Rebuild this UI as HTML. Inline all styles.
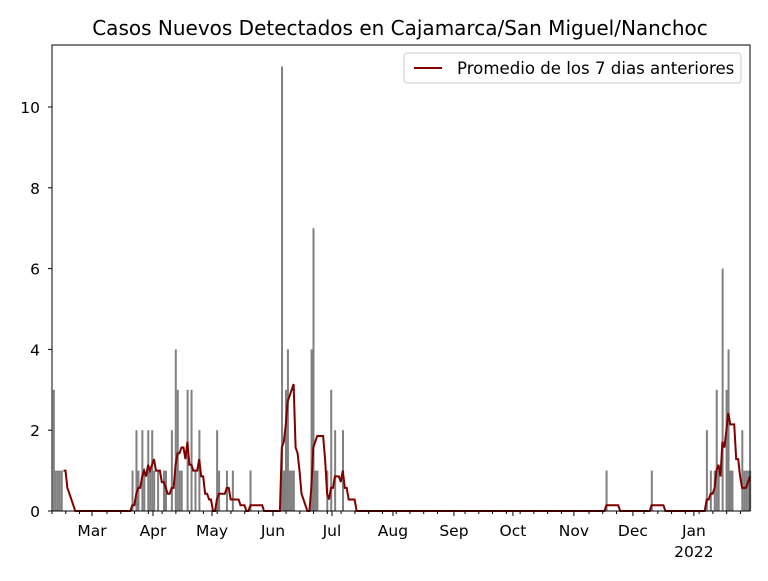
<!DOCTYPE html>
<html><head><meta charset="utf-8"><style>
body{margin:0;background:#fff;}
svg text{font-family:"DejaVu Sans","Liberation Sans",sans-serif;}
</style></head><body>
<svg id="chart" width="768" height="576" xmlns="http://www.w3.org/2000/svg">
<text x="400" y="35" font-size="20" text-anchor="middle">Casos Nuevos Detectados en Cajamarca/San Miguel/Nanchoc</text>
<g id="bars"></g>
<g id="line"></g>
<g id="axes"></g>
<rect x="52" y="45" width="698" height="466" fill="none" stroke="#000" stroke-width="1"/>
<g>
<rect x="404" y="53" width="337" height="30" rx="3" fill="#fff" stroke="#ccc"/>
<line x1="414" y1="68" x2="442" y2="68" stroke="#800000" stroke-width="2"/>
<text x="457" y="74" font-size="16.6">Promedio de los 7 dias anteriores</text>
</g>
</svg>
<script>
const nDays = 355;
const caseDays = [0,1,2,3,4,40,42,43,45,46,48,49,50,51,53,56,57,60,62,63,64,65,68,70,72,74,83,84,88,91,100,116,117,118,119,120,121,122,131,132,133,134,139,141,143,147,281,304,332,334,336,337,338,340,342,343,344,345,350,351,352,353,354];
const caseVals = [3,1,1,1,1,1,2,1,2,1,2,1,2,1,1,1,1,2,4,3,1,1,3,3,1,2,2,1,1,1,1,11,1,3,4,1,1,1,4,7,1,1,1,3,2,2,1,1,2,1,1,3,1,6,3,4,1,1,2,1,1,1,1];
const yTicks = [0,2,4,6,8,10];
const monthDays = [20,51,81,112,142,173,204,234,265,295,326];
const monthLabels = ["Mar","Apr","May","Jun","Jul","Aug","Sep","Oct","Nov","Dec","Jan"];
const NS="http://www.w3.org/2000/svg";
const x = d => 92 + (d-20)*1.967;
const y = v => 511 - v*40.4;
const cases = new Array(nDays).fill(0);
caseDays.forEach((d,i)=>cases[d]=caseVals[i]);
const bars=document.getElementById('bars');
cases.forEach((v,d)=>{ if(!v) return;
  const r=document.createElementNS(NS,'rect');
  
  
  r.setAttribute('x',x(d)+0.2);r.setAttribute('width',2);
  r.setAttribute('y',y(v));r.setAttribute('height',y(0)-y(v));r.setAttribute('fill','#808080');
  bars.appendChild(r);});
let pts=[];
for(let d=5;d<nDays;d++){let s=0;for(let k=d-6;k<=d;k++) if(k>=0) s+=cases[k]; pts.push((x(d)+1).toFixed(1)+','+y(s/7).toFixed(1));}
const pl=document.createElementNS(NS,'polyline');


pl.setAttribute('points',pts.join(' '));pl.setAttribute('fill','none');pl.setAttribute('stroke','#800000');pl.setAttribute('stroke-width','2');
document.getElementById('line').appendChild(pl);
const ax=document.getElementById('axes');
function add(tag,attrs,text){const e=document.createElementNS(NS,tag);for(const k in attrs)e.setAttribute(k,attrs[k]);if(text!==undefined)e.textContent=text;ax.appendChild(e);return e;}
yTicks.forEach(v=>{
  const t=add('line',{x1:48,x2:52,y1:y(v),y2:y(v),stroke:'#000'});
  
  
  const l=add('text',{x:40,y:y(v)+6,'font-size':15.5,'text-anchor':'end'},String(v));
  
  
});
for(let d=0;d<nDays;d+=7){ if(monthDays.some(m=>Math.abs(m-d)<2)) continue;
  const t=add('line',{x1:x(d)-0.7,x2:x(d)-0.7,y1:511,y2:514,stroke:'#000'});
  
  }
monthDays.forEach((d,i)=>{
  const t=add('line',{x1:x(d),x2:x(d),y1:511,y2:516,stroke:'#000'});
  
  
  const l=add('text',{x:x(d),y:536,'font-size':15.5,'text-anchor':'middle'},monthLabels[i]);
  
  
});
const yr=add('text',{x:x(326),y:557,'font-size':15.5,'text-anchor':'middle'},'2022');


</script>
</body></html>
